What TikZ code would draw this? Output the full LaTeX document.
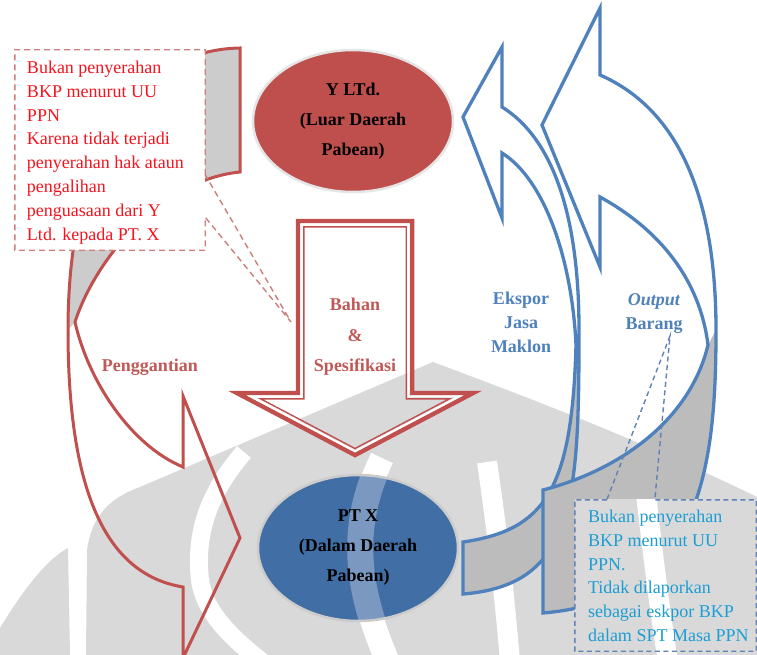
\documentclass[tikz,border=0pt]{standalone}
\usepackage{fontspec}
\setmainfont{Liberation Serif}
\usetikzlibrary{positioning, shapes.geometric, calc}
\definecolor{AccRed}{RGB}{192,80,77}
\definecolor{AccBlue}{RGB}{79,129,189}
\definecolor{LabRed}{RGB}{192,88,85}
\definecolor{EllRed}{RGB}{190,79,76}
\definecolor{EllBlue}{RGB}{66,110,166}
\definecolor{NoteRed}{RGB}{245,20,30}
\definecolor{NoteBlue}{RGB}{28,158,212}
\definecolor{LineRed}{RGB}{204,128,126}
\definecolor{LineBlue}{RGB}{96,130,180}
\definecolor{BandGrey}{RGB}{204,204,204}
\definecolor{BandDark}{RGB}{188,188,188}
\definecolor{WmGrey}{RGB}{217,217,217}

\begin{document}
\begin{tikzpicture}[x=1pt, y=-1pt]

\tikzset{
rim/.style args={#1}{
draw=#1,
line width=3pt,
line join=miter
},
party/.style args={#1}{
ellipse,
fill=#1,
draw=black!10,
line width=2.5pt,
minimum width=200pt,
minimum height=142pt,
align=center,
font=\bfseries\fontsize{18}{30}\selectfont
},
note/.style={
anchor=north west,
inner sep=0pt,
align=left,
text=#1,
font=\fontsize{18}{23.8}\selectfont
},
callout/.style={
draw=#1,
line width=1.4pt,
dash pattern=on 6pt off 4pt
},
flow/.style={
align=center,
text=#1,
font=\bfseries\fontsize{18}{24}\selectfont
},
wmark/.pic={
\fill[WmGrey] (86,655) -- (87,550) .. controls (92,515) and (110,498) .. (140,487) -- (433,362)
  .. controls (480,380) and (620,430) .. (757,497) -- (757,655) -- cycle;
\fill[WmGrey] (0,628) .. controls (20,595) and (45,560) .. (68,548) -- (70,655) -- (0,655) -- cycle;
\draw[white, line width=18pt] (244,452) .. controls (207,495) and (195,535) .. (200,580)
  .. controls (205,615) and (235,640) .. (262,662);
\draw[white, line width=20pt] (487,462) .. controls (497,530) and (505,600) .. (510,662);
\draw[white, line width=24pt] (382,458) .. controls (352,520) and (352,580) .. (388,662);
\draw[white, line width=20pt] (641,450) .. controls (650,530) and (658,600) .. (668,662);
}
}

\fill[white] (0,0) rectangle (757,655);
\useasboundingbox (0,0) rectangle (757,655);
\pic at (0,0) {wmark};

% Penggantian (curved arrow, left)
\fill[BandGrey] (240,48) .. controls (130,50) and (68,160) .. (68,330) -- (75,322)
  .. controls (95,260) and (160,180) .. (240,172) -- cycle;
\draw[rim=AccRed] (240,48) .. controls (130,50) and (68,160) .. (68,330)
  .. controls (68,500) and (110,575) .. (183,587)
  -- (183,658) -- (240,538) -- (183,396) -- (183,467)
  .. controls (130,445) and (88,380) .. (75,322)
  .. controls (95,260) and (160,180) .. (240,172) -- cycle;

% note on Y Ltd.
\node[minimum width=190pt, minimum height=200pt, fill=white, inner sep=0pt] (boxY) at (110,150) {};
\coordinate (tipY) at (291,322);
\draw[callout=LineRed] ([yshift=-125pt]boxY.north east) -- (boxY.north east) -- (boxY.north west)
  -- (boxY.south west) -- (boxY.south east) -- ([yshift=33pt]boxY.south east) -- (tipY) -- cycle;
\node[note=NoteRed] (noteY) at ([xshift=12pt,yshift=-11pt]boxY.north west)
{Bukan penyerahan\\BKP menurut UU\\PPN\\Karena tidak terjadi\\penyerahan hak ataun\\pengalihan\\penguasaan dari Y\\Ltd. kepada PT. X};

\node[party=EllRed] (yltd) at (353,121) {Y LTd.\\(Luar Daerah\\Pabean)};

% Bahan & Spesifikasi (down arrow)
\draw[rim=AccRed, line width=4.5pt] (298,221) -- (412,221) -- (412,393) -- (473,393) -- (355,455)
  -- (237,393) -- (298,393) -- cycle;
\draw[white, line width=2pt] (301.3,224.3) -- (408.7,224.3) -- (408.7,396.3) -- (459.6,396.3)
  -- (355,451.3) -- (250.4,396.3) -- (301.3,396.3) -- cycle;
\draw[AccRed, line width=1.4pt] (303.8,226.8) -- (406.2,226.8) -- (406.2,398.8) -- (449.5,398.8)
  -- (355,448.5) -- (260.5,398.8) -- (303.8,398.8) -- cycle;

% Ekspor Jasa Maklon (curved arrow, inner)
\fill[BandDark] (463,542) .. controls (545,530) and (572,490) .. (576,345) -- (579,330)
  .. controls (579,500) and (575,585) .. (463,594) -- cycle;
\draw[rim=AccBlue, line width=3.3pt] (502,153) -- (502,218) -- (463,117) -- (502,47) -- (502,107)
  .. controls (555,140) and (579,220) .. (579,330)
  .. controls (579,500) and (575,585) .. (463,594) -- (463,542)
  .. controls (545,530) and (572,490) .. (576,345)
  .. controls (572,260) and (545,180) .. (502,153) -- cycle;

% Output Barang (curved arrow, outer)
\fill[BandDark] (543,490) .. controls (620,470) and (690,420) .. (708,345) -- (716,330)
  .. controls (716,470) and (700,600) .. (543,613) -- cycle;
\draw[rim=AccBlue, line width=3.3pt] (600,197) -- (600,267) -- (542,125) -- (600,8) -- (600,75)
  .. controls (680,110) and (716,200) .. (716,330)
  .. controls (716,470) and (700,600) .. (543,613) -- (543,490)
  .. controls (620,470) and (690,420) .. (708,345)
  .. controls (700,280) and (660,230) .. (600,197) -- cycle;

% PT X
\coordinate (cX) at (358,548);
\node[party=EllBlue, draw=black!20, minimum height=146pt,
  path picture={\draw[white, opacity=.3, line width=26pt] ($(cX)+(24,-90)$)
    .. controls ($(cX)+(-6,-28)$) and ($(cX)+(-6,32)$) .. ($(cX)+(30,114)$);}]
  (ptx) at (cX) {PT X\\(Dalam Daerah\\Pabean)};

% note on export
\node[minimum width=181pt, minimum height=151pt, fill=white, inner sep=0pt] (boxX) at (665.5,575.5) {};
\begin{scope}
\clip (boxX.south west) rectangle (boxX.north east);
\pic at (0,0) {wmark};
\end{scope}
\coordinate (tipX) at (670,336);
\draw[callout=LineBlue, dash pattern=on 5pt off 3.5pt] ([xshift=32pt]boxX.north west) -- (boxX.north west)
  -- (boxX.south west) -- (boxX.south east) -- (boxX.north east) -- ([xshift=80pt]boxX.north west)
  -- (tipX) -- cycle;
\node[note=NoteBlue] (noteX) at ([xshift=13pt,yshift=-10pt]boxX.north west)
{Bukan penyerahan\\BKP menurut UU\\PPN.\\Tidak dilaporkan\\sebagai eskpor BKP\\dalam SPT Masa PPN};

% labels
\node[flow=LabRed] (lbPeng) at (150,367) {Penggantian};
\node[flow=LabRed, font=\bfseries\fontsize{18}{30.5}\selectfont] (lbBahan) at (355,337) {Bahan\\\&\\Spesifikasi};
\node[flow=AccBlue] (lbEkspor) at (521,322) {Ekspor\\Jasa\\Maklon};
\node[flow=AccBlue] (lbOutput) at (654,314) {\textit{Output}\\Barang};

\end{tikzpicture}
\end{document}
